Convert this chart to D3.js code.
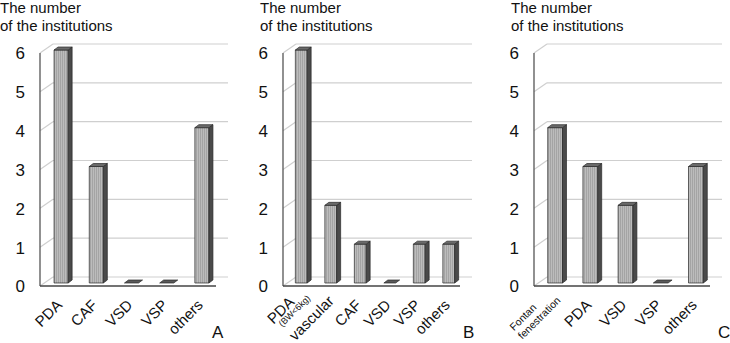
<!DOCTYPE html>
<html><head><meta charset="utf-8">
<script src="https://cdn.jsdelivr.net/npm/d3@7"></script>
<style>html,body{margin:0;padding:0;background:#fff;}svg{display:block;font-family:"Liberation Sans",Arial,sans-serif;}</style>
</head><body>
<svg id="chart" width="730" height="343"></svg>
<script>
// ---- data ----
const yTicks = [0, 1, 2, 3, 4, 5, 6];
const titleLines = ["The number", "of the institutions"];
const catsA = ["PDA", "CAF", "VSD", "VSP", "others"];
const valsA = [6, 3, 0, 0, 4];
const catsB = ["PDA", "vascular", "CAF", "VSD", "VSP", "others"];
const valsB = [6, 2, 1, 0, 1, 1];
const subLabelB = "(BW<6kg)";
const catsC = ["Fontan fenestration", "PDA", "VSD", "VSP", "others"];
const valsC = [4, 3, 2, 0, 3];
const panelLetters = ["A", "B", "C"];

// ---- layout ----
const svg = d3.select("#chart");
const defs = svg.append("defs");
const pat = defs.append("pattern").attr("id", "stripes").attr("patternUnits", "userSpaceOnUse")
  .attr("width", 2).attr("height", 4);
pat.append("rect").attr("width", 2).attr("height", 4).attr("fill", "#bcbcbc");
pat.append("rect").attr("width", 1).attr("height", 4).attr("fill", "#a4a4a4");

const DX = 13, DY = -9;      // depth of the 3D wall
const BX = 4, BY = -3;       // bar depth
const yFront = d3.scaleLinear().domain([0, 6]).range([286, 53]);

function drawPanel(cfg) {
  const g = svg.append("g");
  const x = d3.scaleBand().domain(cfg.cats).range([cfg.x0, cfg.x1]);
  // title
  const t = g.append("text").attr("x", cfg.tx).attr("y", 13).attr("font-size", 15).attr("fill", "#111");
  titleLines.forEach((l, i) => t.append("tspan").attr("x", cfg.tx).attr("dy", i ? 18 : 0).text(l));
  // back gridlines + diagonals
  yTicks.forEach(v => {
    const yf = yFront(v);
    g.append("line").attr("x1", cfg.x0 + DX).attr("x2", cfg.x1 + DX - 1)
      .attr("y1", yf + DY).attr("y2", yf + DY).attr("stroke", "#cfcfcf").attr("stroke-width", 1.2);
    g.append("line").attr("x1", cfg.x0).attr("y1", yf).attr("x2", cfg.x0 + DX).attr("y2", yf + DY)
      .attr("stroke", "#cfcfcf").attr("stroke-width", 1.2);
    g.append("text").attr("x", cfg.x0 - 15).attr("y", yf + 2).attr("text-anchor", "end")
      .attr("dominant-baseline", "middle").attr("font-size", 17).attr("fill", "#111").text(v);
  });
  // vertical axis and floor
  g.append("line").attr("x1", cfg.x0).attr("x2", cfg.x0).attr("y1", yFront(6)).attr("y2", yFront(0))
    .attr("stroke", "#555").attr("stroke-width", 1.3);
  g.append("line").attr("x1", cfg.x0).attr("x2", cfg.x1).attr("y1", yFront(0)).attr("y2", yFront(0))
    .attr("stroke", "#444").attr("stroke-width", 1.5);
  // bars
  const bw = x.bandwidth() * cfg.bwf;
  cfg.cats.forEach((c, i) => {
    const v = cfg.vals[i];
    const cx = x(c) + x.bandwidth() / 2 + 3.5;
    const xl = cx - bw / 2, xr = cx + bw / 2;
    const yb = yFront(0) - 3, yt = yFront(v) - 3;
    const bg = g.append("g").attr("stroke", "#2a2a2a").attr("stroke-width", 0.7).attr("stroke-linejoin", "round");
    if (v > 0) {
      bg.append("rect").attr("x", xl).attr("y", yt).attr("width", bw).attr("height", yb - yt).attr("fill", "url(#stripes)");
      bg.append("path").attr("d", `M${xr},${yt}L${xr + BX},${yt + BY}L${xr + BX},${yb + BY}L${xr},${yb}Z`).attr("fill", "#4a4a4a");
    }
    bg.append("path").attr("d", `M${xl},${yt}L${xl + BX},${yt + BY}L${xr + BX},${yt + BY}L${xr},${yt}Z`)
      .attr("fill", v > 0 ? "#6a6a6a" : "#5a5a5a");
  });
  // category labels
  cfg.cats.forEach((c, i) => {
    const cx = x(c) + x.bandwidth() / 2 + 3.5;
    const lab = cfg.labels[i];
    const lg = g.append("g").attr("transform", `translate(${cx + lab.ox},${lab.oy}) rotate(-45)`);
    lab.lines.forEach(l => {
      lg.append("text").attr("x", l.dx || 0).attr("y", l.dy || 0).attr("text-anchor", "end")
        .attr("font-size", l.fs).attr("fill", "#111").text(l.t);
    });
  });
  // panel letter
  g.append("text").attr("x", cfg.lx).attr("y", 338).attr("font-size", 17).attr("fill", "#111").text(cfg.letter);
}

function simple(c) { return { ox: 2, oy: 306, lines: [{ t: c, fs: 15 }] }; }

drawPanel({
  cats: catsA, vals: valsA, x0: 40, x1: 216, tx: 0, bwf: 0.4, letter: panelLetters[0], lx: 212,
  labels: catsA.map(simple)
});
drawPanel({
  cats: catsB, vals: valsB, x0: 283, x1: 460, tx: 260, bwf: 0.4, letter: panelLetters[1], lx: 463,
  labels: catsB.map((c, i) => {
    if (i === 0) return { ox: -6, oy: 303, lines: [{ t: c, fs: 15 }, { t: subLabelB, fs: 9, dx: 14, dy: 8 }] };
    if (i === 1) return { ox: 4, oy: 302, lines: [{ t: c, fs: 15 }] };
    return simple(c);
  })
});
drawPanel({
  cats: catsC, vals: valsC, x0: 534, x1: 710, tx: 511, bwf: 0.42, letter: panelLetters[2], lx: 718,
  labels: catsC.map((c, i) => {
    if (i === 0) {
      const parts = c.split(" ");
      return { ox: -1, oy: 294, lines: [{ t: parts[0], fs: 10.5, dx: -22, dy: -2 }, { t: parts[1], fs: 10.5, dx: 0, dy: 10 }] };
    }
    return simple(c);
  })
});
</script>
</body></html>
